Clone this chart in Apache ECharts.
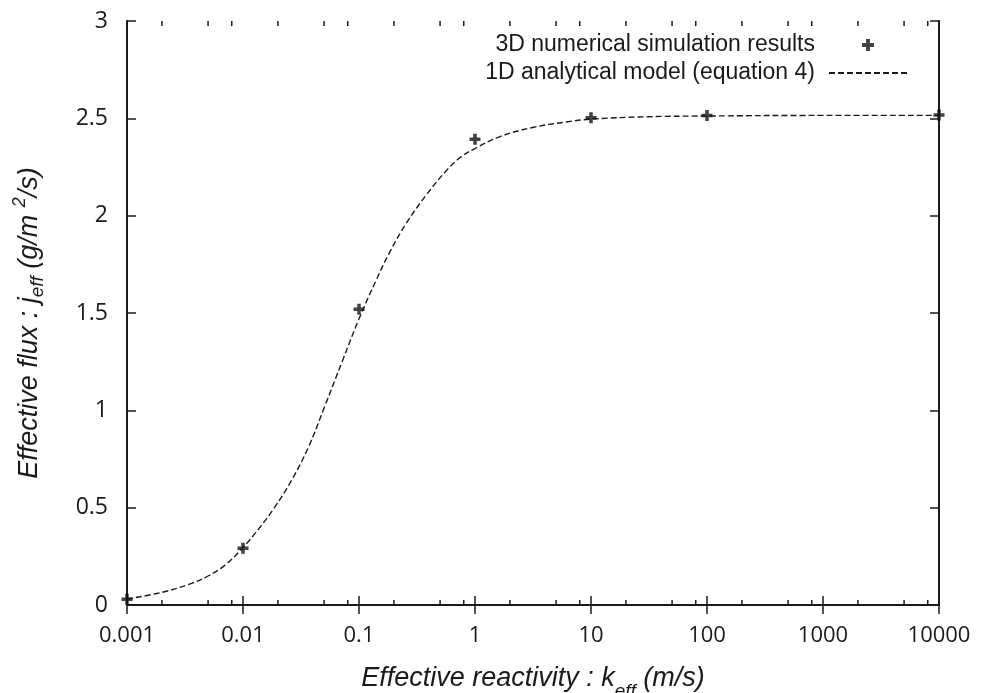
<!DOCTYPE html>
<html lang="en">
<head>
    <meta http-equiv="Content-Type" content="text/html; charset=UTF-8">
    <title>Effective flux vs effective reactivity</title>
    <script type="text/javascript" src="https://cdn.jsdelivr.net/npm/echarts@6/dist/echarts.min.js"></script>
</head>
<body style="margin:0;width:981px;height:693px;background:#fff">
<div id="main" style="width:981px;height:693px"></div>
<script type="text/javascript">
    // simulation points (k_eff in m/s, j_eff in g/m2/s)
    var simK = [0.001, 0.01, 0.1, 1, 10, 100, 10000];
    var simJ = [0.03, 0.291, 1.519, 2.393, 2.503, 2.515, 2.517];

    // analytical curve
    var modelK = [0.001, 0.002, 0.0036, 0.005, 0.007, 0.01, 0.0136, 0.0189, 0.0263, 0.0366,
                  0.0506, 0.0726, 0.1, 0.141, 0.183, 0.255, 0.379, 0.564, 0.75, 1,
                  1.62, 3.14, 6.08, 10, 30, 100, 1000, 10000];
    var modelJ = [0.031, 0.065, 0.111, 0.149, 0.205, 0.295, 0.39, 0.505, 0.642, 0.81,
                  1.02, 1.26, 1.47, 1.67, 1.81, 1.96, 2.105, 2.23, 2.30, 2.345,
                  2.405, 2.453, 2.481, 2.496, 2.508, 2.512, 2.515, 2.515];

    var xTickLabels = ['0.001', '0.01', '0.1', '1', '10', '100', '1000', '10000'];
    var minorTicks = [0.002, 0.005, 0.008, 0.02, 0.05, 0.08, 0.2, 0.5, 0.8, 2, 5, 8,
                      20, 50, 80, 200, 500, 800, 2000, 5000, 8000];

    var ink = '#1a1a1a';
    var plusPath = 'path://M3.4,0H6.6V3.4H10V6.6H6.6V10H3.4V6.6H0V3.4H3.4Z';

    var myChart = echarts.init(document.getElementById('main'));

    function zip(a, b) {
        return a.map(function (v, i) { return [v, b[i]]; });
    }

    var frameAxis = {
        axisLine: { show: true, lineStyle: { color: ink, width: 2 } },
        axisTick: { show: true, inside: true, length: 9, lineStyle: { color: ink, width: 1.5 } },
        splitLine: { show: false }
    };

    myChart.setOption({
        animation: false,
        grid: { left: 127, right: 42, top: 21, bottom: 88, containLabel: false, outerBoundsMode: 'none' },
        legend: {
            data: [
                { name: '3D numerical simulation results', icon: plusPath },
                { name: '1D analytical model (equation 4)', itemStyle: { opacity: 0 } }
            ],
            orient: 'vertical',
            align: 'right',
            right: 68,
            top: 28,
            itemWidth: 78,
            itemHeight: 12,
            itemGap: 4,
            textStyle: {
                fontFamily: 'Liberation Sans',
                fontSize: 23,
                color: ink,
                lineHeight: 24,
                padding: [0, 9, 0, 0]
            }
        },
        xAxis: [
            Object.assign({
                type: 'log',
                logBase: 10,
                min: 0.001,
                max: 10000,
                position: 'bottom',
                name: '{t|Effective reactivity : k}{s|eff}{t| (m/s)}',
                nameLocation: 'middle',
                nameGap: 60,
                nameTextStyle: {
                    rich: {
                        t: { fontFamily: 'Liberation Sans', fontStyle: 'italic', fontSize: 27, color: ink, lineHeight: 36, verticalAlign: 'top' },
                        s: { fontFamily: 'Liberation Sans', fontStyle: 'italic', fontSize: 19, color: ink, lineHeight: 36, verticalAlign: 'bottom' }
                    }
                },
                axisLabel: {
                    margin: 20,
                    fontFamily: 'Open Sans',
                    fontSize: 22,
                    color: ink,
                    formatter: function (v) {
                        return xTickLabels[Math.round(Math.log10(v)) + 3];
                    }
                }
            }, frameAxis),
            Object.assign({
                type: 'log',
                logBase: 10,
                min: 0.001,
                max: 10000,
                position: 'top',
                axisLabel: { show: false }
            }, frameAxis)
        ],
        yAxis: [
            Object.assign({
                type: 'value',
                min: 0,
                max: 3,
                interval: 0.5,
                position: 'left',
                name: '{t|Effective flux : j}{s|eff}{t| (g/m }{p|2}{t|/s)}',
                nameLocation: 'middle',
                nameGap: 80,
                nameTextStyle: {
                    padding: [0, 20, 0, 0],
                    rich: {
                        t: { fontFamily: 'Liberation Sans', fontStyle: 'italic', fontSize: 27, color: ink, lineHeight: 36, verticalAlign: 'middle' },
                        s: { fontFamily: 'Liberation Sans', fontStyle: 'italic', fontSize: 19, color: ink, lineHeight: 36, verticalAlign: 'bottom' },
                        p: { fontFamily: 'Liberation Sans', fontStyle: 'italic', fontSize: 18, color: ink, lineHeight: 36, verticalAlign: 'top' }
                    }
                },
                axisLabel: {
                    margin: 19,
                    fontFamily: 'Open Sans',
                    fontSize: 23,
                    color: ink
                }
            }, frameAxis),
            Object.assign({
                type: 'value',
                min: 0,
                max: 3,
                interval: 0.5,
                position: 'right',
                axisLabel: { show: false }
            }, frameAxis)
        ],
        series: [
            {
                name: '1D analytical model (equation 4)',
                type: 'line',
                data: zip(modelK, modelJ),
                symbol: 'none',
                smooth: 0.4,
                lineStyle: { color: ink, width: 1.4, type: [6, 3] },
                itemStyle: { color: ink },
                z: 3
            },
            {
                name: '3D numerical simulation results',
                type: 'scatter',
                data: zip(simK, simJ),
                symbol: plusPath,
                symbolSize: 11,
                itemStyle: { color: '#111' },
                z: 4
            },
            {
                // minor ticks at 2, 5, 8 of each decade, bottom and top
                type: 'custom',
                silent: true,
                data: minorTicks.map(function (v) { return [v, 0]; }),
                encode: { x: 0, y: 1 },
                clip: false,
                renderItem: function (params, api) {
                    var b = api.coord([api.value(0), 0]);
                    var t = api.coord([api.value(0), 3]);
                    var st = { stroke: ink, lineWidth: 1.5 };
                    return {
                        type: 'group',
                        children: [
                            { type: 'line', shape: { x1: b[0], y1: b[1], x2: b[0], y2: b[1] - 5 }, style: st },
                            { type: 'line', shape: { x1: t[0], y1: t[1], x2: t[0], y2: t[1] + 5 }, style: st }
                        ]
                    };
                },
                z: 5
            }
        ]
    });
</script>
</body>
</html>
